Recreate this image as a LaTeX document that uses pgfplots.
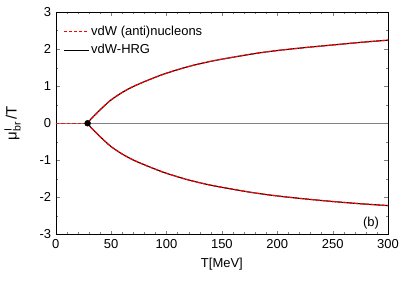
\documentclass[border=0pt]{standalone}
\usepackage{pgfplots}
\pgfplotsset{compat=1.18}
\usepackage{fontspec}
\setmainfont{Liberation Sans}
\usetikzlibrary{calc}
\pgfplotstableread{
T v
28.8 0
30 0.05
32 0.12
35 0.21
40 0.36
45 0.5
50 0.63
60 0.83
70 0.99
80 1.12
90 1.24
100 1.35
120 1.53
140 1.67
160 1.78
180 1.88
200 1.96
225 2.04
250 2.11
275 2.18
300 2.24
}\branchup
\pgfplotstableread{
T v
28.8 0
30 -0.05
32 -0.12
35 -0.21
40 -0.36
45 -0.5
50 -0.63
60 -0.83
70 -0.99
80 -1.12
90 -1.24
100 -1.35
120 -1.53
140 -1.67
160 -1.78
180 -1.88
200 -1.96
225 -2.04
250 -2.11
275 -2.17
300 -2.22
}\branchdown
\pgfplotstableread{
T v
0 0
28.8 0
}\branchflat
\begin{document}
\fontsize{13}{15}\selectfont
\begin{tikzpicture}
\begin{axis}[
  scale only axis, width=333pt, height=223pt,
  xmin=0, xmax=300, ymin=-3, ymax=3,
  xtick={0,50,...,300}, minor x tick num=4,
  ytick={-3,-2,...,3}, minor y tick num=1,
  tick align=inside, tick pos=both,
  major tick length=4pt, minor tick length=2.5pt,
  /pgf/number format/assume math mode=true,
  ticklabel style={font=\fontsize{13}{15}\selectfont},
  xlabel={T[MeV]}, ylabel={μ$^{\mathrm{I}}_{\mathrm{br}}$\,/T},
  xlabel style={font=\fontsize{13}{15}\selectfont, yshift=-1pt},
  ylabel style={font=\fontsize{15}{17}\selectfont, yshift=10pt},
  legend style={draw=none, at={(0.015,0.955)}, anchor=north west, font=\fontsize{13}{15}\selectfont, row sep=3pt},
  legend cell align=left,
]
\addlegendimage{legend image code/.code={\begin{scope}\color{red}\pgfsetstrokecolor{red}\draw[red, line width=1.2pt, dash pattern=on 3pt off 2pt] (0cm,0cm) -- (0.85cm,0cm);\end{scope}}}
\addlegendentry{vdW (anti)nucleons}
\addlegendimage{legend image code/.code={\draw[black, line width=1.1pt] (0cm,0cm) -- (0.85cm,0cm);}}
\addlegendentry{vdW-HRG}
\addplot[gray, line width=0.6pt, forget plot] coordinates {(0,0) (300,0)};
\addplot[black, line width=1.1pt, smooth, forget plot] table[x=T,y=v] {\branchup};
\addplot[black, line width=1.1pt, smooth, forget plot] table[x=T,y=v] {\branchdown};
\addplot[red, line width=1.2pt, smooth, dash pattern=on 4pt off 1.5pt, forget plot] table[x=T,y=v] {\branchup};
\addplot[red, line width=1.2pt, smooth, dash pattern=on 4pt off 1.5pt, forget plot] table[x=T,y=v] {\branchdown};
\addplot[red!80!gray, line width=1.1pt, dash pattern=on 3.5pt off 2pt, forget plot] table[x=T,y=v] {\branchflat};
\addplot[only marks, mark=*, mark size=3pt, black, forget plot] coordinates {(28.8,0)};
\node at (axis cs:284.7,-2.7) {(b)};
\end{axis}
\path[use as bounding box] ($(current axis.south west)+(-55pt,-52pt)$) rectangle ($(current axis.north east)+(19pt,12pt)$);
\end{tikzpicture}
\end{document}
